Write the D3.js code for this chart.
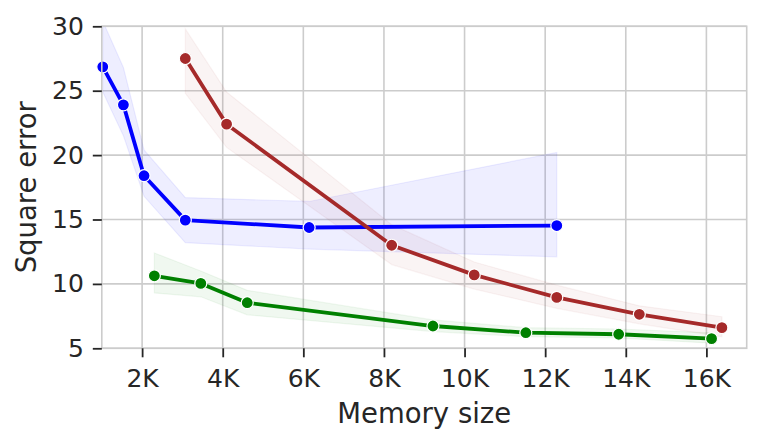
<!DOCTYPE html>
<html>
<head>
<meta charset="utf-8">
<script src="https://cdn.jsdelivr.net/npm/d3@7/dist/d3.min.js"></script>
<style>
  body { margin: 0; background: #fff; }
  text { font-family: "DejaVu Sans", sans-serif; fill: #262626; }
</style>
</head>
<body>
<div class="chart"></div>
<script>
// series: memory size, mean square error, band low / high
const blueX = [1024, 1536, 2048, 3072, 6144, 12288];
const blueY = [26.85, 23.9, 18.4, 14.95, 14.38, 14.53];
const blueLo = [24.9, 21.5, 16.8, 13.2, 12.7, 12.1];
const blueHi = [30.4, 26.8, 20.4, 16.7, 16.4, 20.2];

const redX = [3072, 4096, 8192, 10240, 12288, 14336, 16384];
const redY = [27.5, 22.4, 13.0, 10.7, 8.95, 7.64, 6.6];
const redLo = [24.8, 20.6, 11.5, 9.6, 8.1, 6.9, 5.9];
const redHi = [29.8, 24.9, 14.6, 11.7, 9.9, 8.3, 7.45];

const greenX = [2304, 3456, 4608, 9216, 11520, 13824, 16128];
const greenY = [10.63, 10.04, 8.54, 6.73, 6.21, 6.09, 5.75];
const greenLo = [9.3, 9.0, 7.6, 6.3, 5.9, 5.8, 5.4];
const greenHi = [12.4, 11.0, 9.5, 7.2, 6.6, 6.5, 6.2];

const xTicks = [2000, 4000, 6000, 8000, 10000, 12000, 14000, 16000];
const yTicks = [5, 10, 15, 20, 25, 30];

const series = [
  {x: blueX, y: blueY, lo: blueLo, hi: blueHi, color: '#0000ff', bandOpacity: 0.065},
  {x: redX, y: redY, lo: redLo, hi: redHi, color: '#a52a2a', bandOpacity: 0.05},
  {x: greenX, y: greenY, lo: greenLo, hi: greenHi, color: '#008000', bandOpacity: 0.06}
];

const width = 761, height = 443;
const margin = {top: 26.3, right: 14.3, bottom: 94.7, left: 101.8};
const w = width - margin.left - margin.right;
const h = height - margin.top - margin.bottom;

const svg = d3.select('.chart').append('svg')
  .attr('width', width).attr('height', height);
const g = svg.append('g')
  .attr('transform', `translate(${margin.left},${margin.top})`);

const xScale = d3.scaleLinear().domain([1000, 17000]).range([0, w]);
const yScale = d3.scaleLinear().domain([5, 30]).range([h, 0]);

g.append('clipPath').attr('id', 'plot-clip')
  .append('rect').attr('width', w).attr('height', h);

// grid
g.append('g').selectAll('line').data(xTicks).join('line')
  .attr('x1', d => xScale(d)).attr('x2', d => xScale(d))
  .attr('y1', 0).attr('y2', h)
  .style('stroke', '#cccccc').style('stroke-width', 1.6);
g.append('g').selectAll('line').data(yTicks).join('line')
  .attr('y1', d => yScale(d)).attr('y2', d => yScale(d))
  .attr('x1', 0).attr('x2', w)
  .style('stroke', '#cccccc').style('stroke-width', 1.6);

const plot = g.append('g').attr('clip-path', 'url(#plot-clip)');

series.forEach(s => {
  const pts = s.x.map((x, i) => ({x: x, y: s.y[i], lo: s.lo[i], hi: s.hi[i]}));
  const area = d3.area().x(d => xScale(d.x)).y0(d => yScale(d.lo)).y1(d => yScale(d.hi));
  plot.append('path').datum(pts).attr('d', area)
    .style('fill', s.color).style('fill-opacity', s.bandOpacity)
    .style('stroke', s.color).style('stroke-opacity', s.bandOpacity).style('stroke-width', 1.2);
});

series.forEach(s => {
  const pts = s.x.map((x, i) => ({x: x, y: s.y[i]}));
  const line = d3.line().x(d => xScale(d.x)).y(d => yScale(d.y));
  g.append('path').datum(pts).attr('d', line)
    .style('fill', 'none').style('stroke', s.color).style('stroke-width', 3.8)
    .style('stroke-linejoin', 'round');
  g.append('g').selectAll('circle').data(pts).join('circle')
    .attr('cx', d => xScale(d.x)).attr('cy', d => yScale(d.y))
    .attr('r', 6)
    .style('fill', s.color).style('stroke', '#fff').style('stroke-width', 1.2);
});

// spines
g.append('rect').attr('width', w).attr('height', h)
  .style('fill', 'none').style('stroke', '#cccccc').style('stroke-width', 1.6);

const xAxis = d3.axisBottom(xScale).tickValues(xTicks)
  .tickFormat(d => (d / 1000) + 'K').tickSize(9).tickPadding(12);
const xAxisDraw = g.append('g').attr('transform', `translate(0,${h})`).call(xAxis);

const yAxis = d3.axisLeft(yScale).tickValues(yTicks).tickSize(9).tickPadding(9);
const yAxisDraw = g.append('g').call(yAxis);

[xAxisDraw, yAxisDraw].forEach(a => {
  a.select('.domain').remove();
  a.selectAll('.tick line').style('stroke', '#262626').style('stroke-width', 1.8);
  a.selectAll('.tick text').style('font-size', '25px').style('font-family', '"DejaVu Sans", sans-serif')
    .style('fill', '#262626');
});

svg.append('text')
  .attr('x', margin.left + w / 2).attr('y', 423)
  .style('text-anchor', 'middle').style('font-size', '27.5px')
  .text('Memory size');

svg.append('text')
  .attr('transform', `translate(36,${margin.top + h / 2}) rotate(-90)`)
  .style('text-anchor', 'middle').style('font-size', '27.5px')
  .text('Square error');
</script>
</body>
</html>
